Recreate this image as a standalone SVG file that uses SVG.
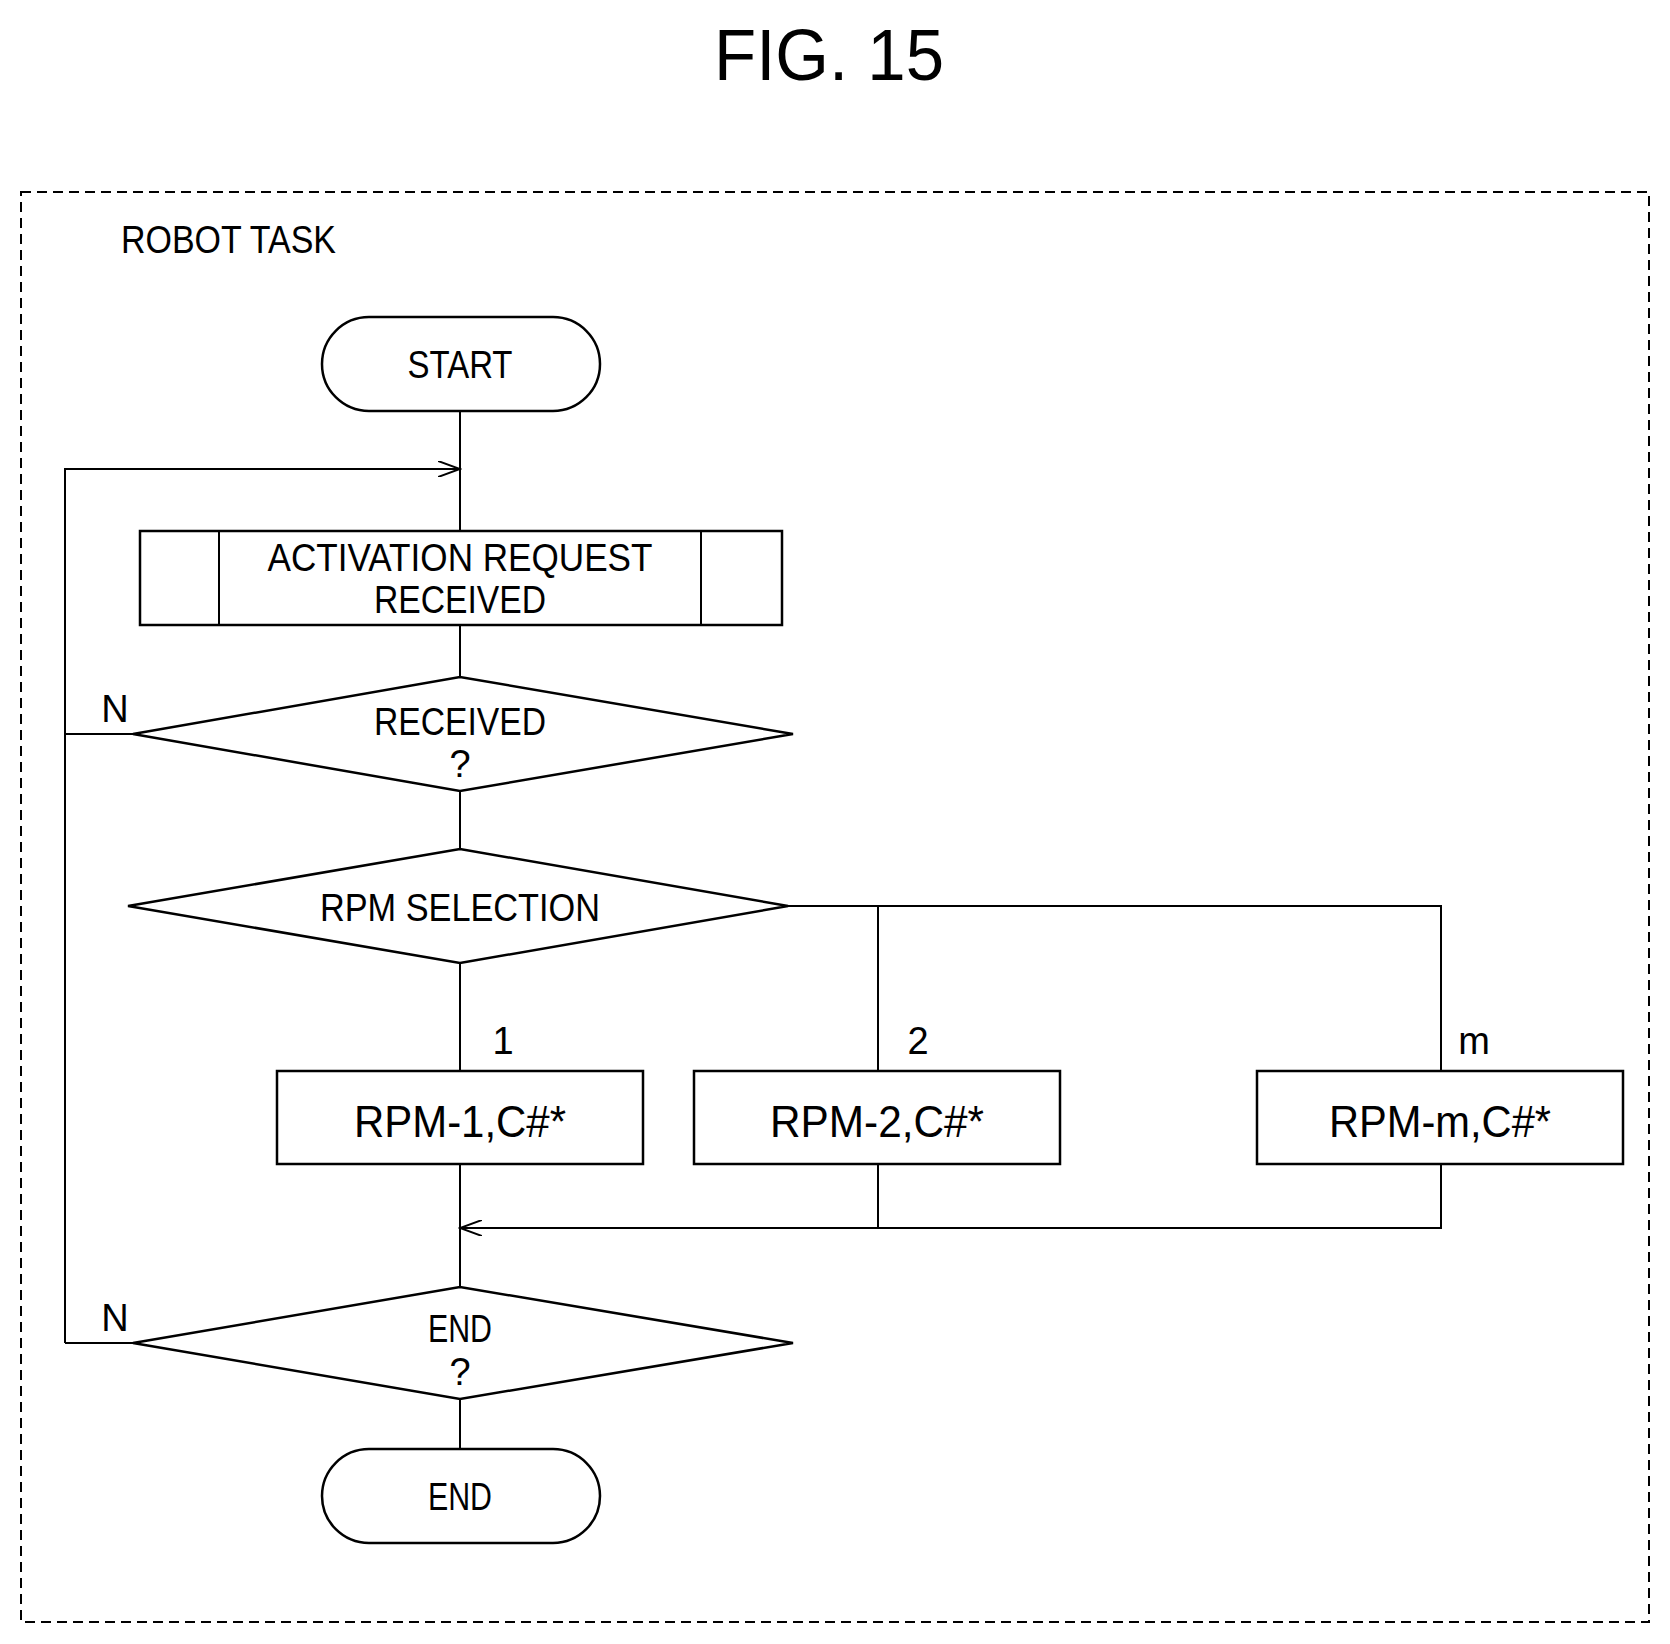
<svg xmlns="http://www.w3.org/2000/svg" width="1670" height="1644" viewBox="0 0 1670 1644">
<defs>
<style>
.s{fill:#fff;stroke:#000;stroke-width:2.5}
.l{fill:none;stroke:#000;stroke-width:2}
text{font-family:"Liberation Sans",Arial,sans-serif;fill:#000;text-anchor:middle}
.t{font-size:38px}
.b{font-size:44px}
</style>
<marker id="a" markerWidth="24" markerHeight="16" refX="22" refY="8" orient="auto" markerUnits="userSpaceOnUse"><path d="M0,0 L22,8 L0,16" fill="none" stroke="#000" stroke-width="2"/></marker>
</defs>
<rect width="1670" height="1644" fill="#fff"/>
<text x="829" y="80" style="font-size:72px" textLength="230" lengthAdjust="spacingAndGlyphs">FIG. 15</text>
<rect x="21" y="192" width="1628" height="1430" fill="none" stroke="#000" stroke-width="2" stroke-dasharray="10,6"/>
<text x="121" y="253" class="t" style="text-anchor:start" textLength="215" lengthAdjust="spacingAndGlyphs">ROBOT TASK</text>
<g id="connectors">
<path class="l" d="M460,411 V531"/>
<path class="l" d="M65,734 H133 M65,1343 H133 M65,1343 V469 H460" marker-end="url(#a)"/>
<path class="l" d="M460,625 V677 M460,791 V849 M460,963 V1071"/>
<path class="l" d="M788,906 H1441 V1071 M878,906 V1071"/>
<path class="l" d="M1441,1164 V1228 H460" marker-end="url(#a)"/>
<path class="l" d="M878,1164 V1228 M460,1164 V1287 M460,1399 V1449"/>
</g>
<g id="start"><rect class="s" x="322" y="317" width="278" height="94" rx="47"/><text x="460" y="378" class="t" textLength="105" lengthAdjust="spacingAndGlyphs">START</text></g>
<g id="activation"><rect class="s" x="140" y="531" width="642" height="94"/><path class="l" d="M219,531 V625 M701,531 V625"/>
<text x="460" y="571" class="t" textLength="385" lengthAdjust="spacingAndGlyphs">ACTIVATION REQUEST</text><text x="460" y="613" class="t" textLength="172" lengthAdjust="spacingAndGlyphs">RECEIVED</text></g>
<g id="received"><polygon class="s" points="133,734 460,677 793,734 460,791"/><text x="460" y="735" class="t" textLength="172" lengthAdjust="spacingAndGlyphs">RECEIVED</text><text x="460" y="777" class="t">?</text><text x="115" y="722" class="t">N</text></g>
<g id="rpmsel"><polygon class="s" points="128,906 460,849 788,906 460,963"/><text x="460" y="921" class="t" textLength="280" lengthAdjust="spacingAndGlyphs">RPM SELECTION</text></g>
<text x="503" y="1054" class="t">1</text><text x="918" y="1054" class="t">2</text><text x="1474" y="1054" class="t">m</text>
<g id="rpm1"><rect class="s" x="277" y="1071" width="366" height="93"/><text x="460" y="1137" class="b" textLength="212" lengthAdjust="spacingAndGlyphs">RPM-1,C#*</text></g>
<g id="rpm2"><rect class="s" x="694" y="1071" width="366" height="93"/><text x="877" y="1137" class="b" textLength="214" lengthAdjust="spacingAndGlyphs">RPM-2,C#*</text></g>
<g id="rpmm"><rect class="s" x="1257" y="1071" width="366" height="93"/><text x="1440" y="1137" class="b" textLength="222" lengthAdjust="spacingAndGlyphs">RPM-m,C#*</text></g>
<g id="enddec"><polygon class="s" points="133,1343 460,1287 793,1343 460,1399"/><text x="460" y="1342" class="t" textLength="64" lengthAdjust="spacingAndGlyphs">END</text><text x="460" y="1385" class="t">?</text><text x="115" y="1331" class="t">N</text></g>
<g id="end"><rect class="s" x="322" y="1449" width="278" height="94" rx="47"/><text x="460" y="1510" class="t" textLength="64" lengthAdjust="spacingAndGlyphs">END</text></g>
</svg>
